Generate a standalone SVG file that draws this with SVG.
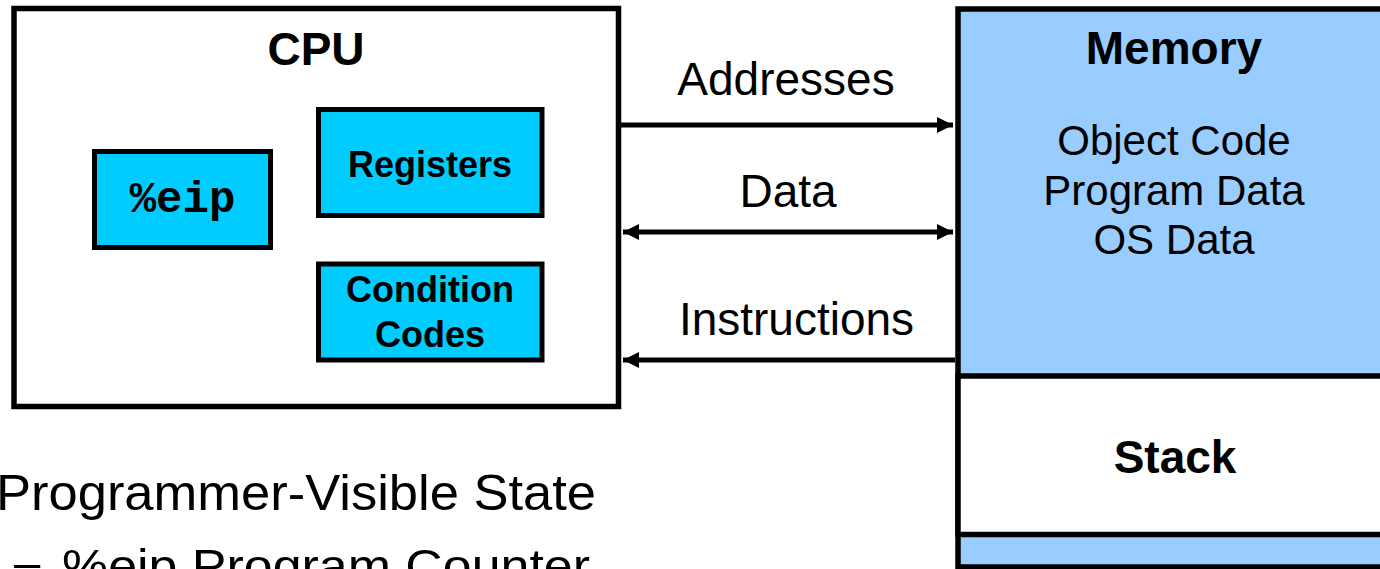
<svg xmlns="http://www.w3.org/2000/svg" width="1380" height="569" viewBox="0 0 1380 569">
<style>
.box{stroke:#000;stroke-width:5.5}
.reg{fill:#00CCFF;stroke:#000;stroke-width:5}
.mem{fill:#99CCFF}
.title{font-family:"Liberation Sans",Arial,sans-serif;font-weight:bold;font-size:46px;text-anchor:middle;fill:#000}
.inner{font-family:"Liberation Sans",Arial,sans-serif;font-weight:bold;font-size:36px;text-anchor:middle;fill:#000}
.lbl{font-family:"Liberation Sans",Arial,sans-serif;font-size:46px;text-anchor:middle;fill:#000}
.memtxt{font-family:"Liberation Sans",Arial,sans-serif;font-size:42px;text-anchor:middle;fill:#000}
.mono{font-family:"Liberation Mono","Courier New",monospace;font-weight:bold;font-size:44px;text-anchor:middle;fill:#000}
.plain{font-family:"Liberation Sans",Arial,sans-serif;fill:#000}
.wire{stroke:#000;stroke-width:5;fill:none}
</style>
<defs>
<marker id="ah" markerUnits="userSpaceOnUse" markerWidth="18" markerHeight="16" refX="16" refY="8" orient="auto-start-reverse">
<path d="M0,0 L16,8 L0,16 Z" fill="#000"/>
</marker>
</defs>
<rect width="1380" height="569" fill="#fff"/>
<g id="cpu">
<rect class="box" x="14" y="8.5" width="604.5" height="398" fill="#fff"/>
<text class="title" x="316" y="65">CPU</text>
</g>
<g id="eip">
<rect class="reg" x="94.5" y="151.5" width="176" height="96"/>
<text class="mono" x="182.5" y="212">%eip</text>
</g>
<g id="registers">
<rect class="reg" x="318.5" y="109.5" width="223.5" height="106"/>
<text class="inner" x="430" y="177">Registers</text>
</g>
<g id="condition-codes">
<rect class="reg" x="318.5" y="264" width="223.5" height="96"/>
<text class="inner" x="430" y="302">Condition</text>
<text class="inner" x="430" y="347">Codes</text>
</g>
<g id="memory">
<rect class="box mem" x="958" y="9" width="440" height="558"/>
<text class="title" x="1174" y="64">Memory</text>
<text class="memtxt" x="1174" y="155">Object Code</text>
<text class="memtxt" x="1174" y="205">Program Data</text>
<text class="memtxt" x="1174" y="254">OS Data</text>
</g>
<g id="stack">
<rect class="box" x="958" y="376" width="440" height="158.5" fill="#fff"/>
<text class="title" x="1175" y="473">Stack</text>
</g>
<g id="connectors">
<line class="wire" x1="621" y1="125" x2="953" y2="125" marker-end="url(#ah)"/>
<line class="wire" x1="623" y1="232" x2="953" y2="232" marker-start="url(#ah)" marker-end="url(#ah)"/>
<line class="wire" x1="955" y1="360" x2="623" y2="360" marker-end="url(#ah)"/>
<text class="lbl" x="786" y="95">Addresses</text>
<text class="lbl" x="788" y="207">Data</text>
<text class="lbl" x="796.5" y="335">Instructions</text>
</g>
<g id="notes">
<text class="plain" x="-4" y="510" font-size="50" textLength="600" lengthAdjust="spacingAndGlyphs">Programmer-Visible State</text>
<text class="plain" font-size="47"><tspan x="14" y="578">–</tspan><tspan x="62" y="582" textLength="528" lengthAdjust="spacingAndGlyphs">%eip Program Counter</tspan></text>
</g>
</svg>
